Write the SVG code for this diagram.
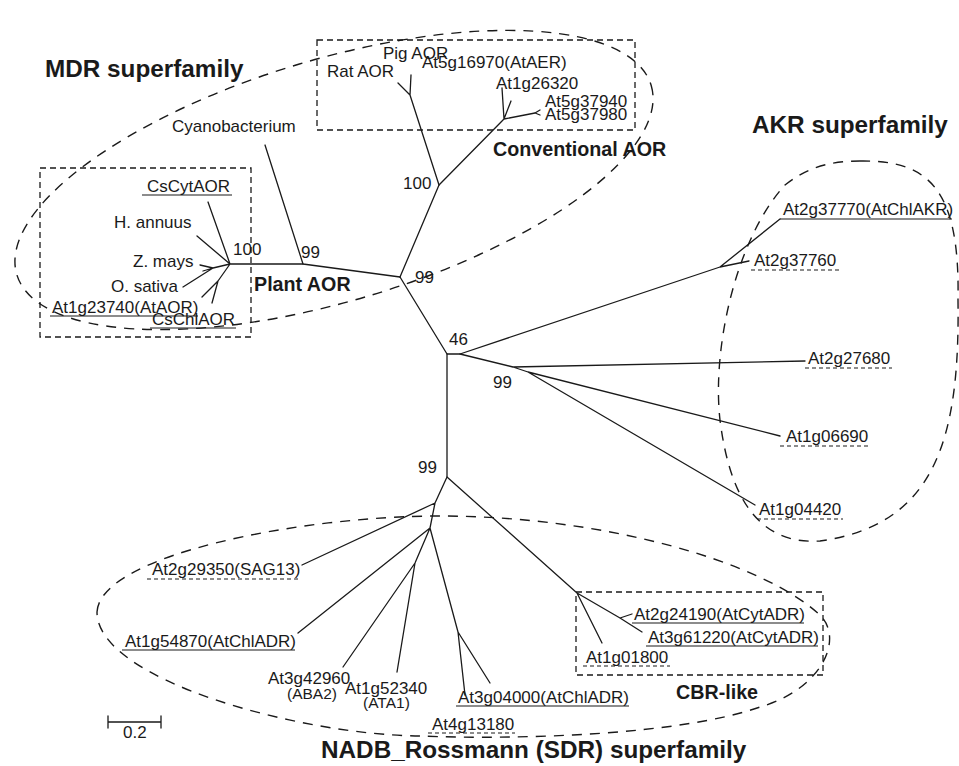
<svg xmlns="http://www.w3.org/2000/svg" width="959" height="766" viewBox="0 0 959 766">
<style>
text{font-family:"Liberation Sans",Arial,sans-serif;font-size:17px;fill:#1a1a1a}
.b{font-weight:bold;font-size:19.7px}
.t{font-weight:bold;font-size:24.3px}
.s{font-size:15.5px}
.br{fill:none;stroke:#1a1a1a;stroke-width:1.3;stroke-linecap:round;stroke-linejoin:round}
.ul{stroke:#1a1a1a;stroke-width:1.2}
.du{stroke:#1a1a1a;stroke-width:1.2;stroke-dasharray:4 3}
.ell{fill:none;stroke:#1a1a1a;stroke-width:1.4;stroke-dasharray:10 8}
.box{fill:none;stroke:#1a1a1a;stroke-width:1.3;stroke-dasharray:6 4}
</style>
<rect width="959" height="766" fill="#fff"/>

<g id="clusters">
  <g id="mdr-superfamily">
    <ellipse class="ell" cx="334" cy="180" rx="331" ry="121" transform="rotate(-16.6 334 180)"/>
    <text class="t" x="45" y="77">MDR superfamily</text>
  </g>
  <g id="conventional-aor">
    <rect class="box" x="317" y="40" width="318" height="90"/>
    <text class="b" x="493" y="156">Conventional AOR</text>
  </g>
  <g id="plant-aor">
    <rect class="box" x="40" y="168" width="211" height="169"/>
    <text class="b" x="254" y="291">Plant AOR</text>
  </g>
  <g id="akr-superfamily">
    <path class="ell" d="M860,161 C930,160 960,190 958,300 C960,440 935,525 820,541 C760,545 730,500 720,420 C712,350 735,240 785,185 C810,165 835,161 860,161 Z"/>
    <text class="t" x="752" y="133">AKR superfamily</text>
  </g>
  <g id="sdr-superfamily">
    <path class="ell" d="M97,612 C100,555 300,516 440,516 C600,516 760,560 820,615 C845,640 820,690 760,707 C680,735 520,740 420,736 C300,735 97,680 97,612 Z"/>
    <text class="t" x="321" y="758">NADB_Rossmann (SDR) superfamily</text>
  </g>
  <g id="cbr-like">
    <rect class="box" x="576" y="592" width="247" height="83"/>
    <text class="b" x="676" y="699">CBR-like</text>
  </g>
</g>

<g id="connectors">
  <!-- MDR -->
  <path class="br" d="M400,277 L439,185 L410,95 L398,83 M410,95 L411,75"/>
  <path class="br" d="M439,185 L504,119 L502,88 M504,119 L511,101 M504,119 L535,113 L540,110 M535,113 L540,115"/>
  <path class="br" d="M400,277 L303,264 L265,145"/>
  <path class="br" d="M303,264 L230,264 L208,202 M230,264 L197,236 M230,264 L213,268 L200,265 M213,268 L203,271 M213,268 L183,287 M230,264 L218,281 L202,297 M218,281 L212,303"/>
  <!-- AKR -->
  <path class="br" d="M400,277 L447,354 L460,354 L720,267 L780,219 M720,267 L749,261"/>
  <path class="br" d="M460,354 L513,367 L805,361 M513,367 L528,372 L780,436 M528,372 L755,505"/>
  <!-- SDR -->
  <path class="br" d="M447,354 L447,477 L577,593 L602,643 M577,593 L620,618 L642,632 M620,618 L632,614"/>
  <path class="br" d="M447,477 L435,503 L302,565 M435,503 L430,528 L298,633 M430,528 L415,563 L343,667 M415,563 L397,672 M430,528 L458,632 L465,695 M458,632 L490,683"/>
</g>

<g id="bootstrap">
  <text x="403" y="189">100</text>
  <text x="233" y="255">100</text>
  <text x="301" y="258">99</text>
  <text x="415" y="283">99</text>
  <text x="449" y="345">46</text>
  <text x="493" y="388">99</text>
  <text x="418" y="473">99</text>
</g>

<g id="n-pig-aor"><text x="383" y="59">Pig AOR</text></g>
<g id="n-at5g16970"><text x="422" y="68">At5g16970(AtAER)</text></g>
<g id="n-rat-aor"><text x="327" y="77">Rat AOR</text></g>
<g id="n-at1g26320"><text x="496" y="89">At1g26320</text></g>
<g id="n-at5g37940"><text x="545" y="107">At5g37940</text></g>
<g id="n-at5g37980"><text x="545" y="120">At5g37980</text></g>
<g id="n-cyanobacterium"><text x="172" y="132">Cyanobacterium</text></g>
<g id="n-cscytaor"><text x="147" y="192">CsCytAOR</text><line class="ul" x1="142" y1="195" x2="232" y2="195"/></g>
<g id="n-h-annuus"><text x="114" y="228">H. annuus</text></g>
<g id="n-z-mays"><text x="133" y="267">Z. mays</text></g>
<g id="n-o-sativa"><text x="111" y="292">O. sativa</text></g>
<g id="n-at1g23740"><text x="52" y="313">At1g23740(AtAOR)</text><line class="ul" x1="50" y1="316" x2="198" y2="316"/></g>
<g id="n-cschlaor"><text x="152" y="325">CsChlAOR</text><line class="ul" x1="150" y1="328" x2="236" y2="328"/></g>

<g id="n-at2g37770"><text x="783" y="215">At2g37770(AtChlAKR)</text><line class="ul" x1="780" y1="219" x2="952" y2="219"/></g>
<g id="n-at2g37760"><text x="754" y="266">At2g37760</text><line class="du" x1="751" y1="270" x2="840" y2="270"/></g>
<g id="n-at2g27680"><text x="808" y="364">At2g27680</text><line class="du" x1="805" y1="368" x2="892" y2="368"/></g>
<g id="n-at1g06690"><text x="786" y="442">At1g06690</text><line class="du" x1="780" y1="446" x2="868" y2="446"/></g>
<g id="n-at1g04420"><text x="759" y="515">At1g04420</text><line class="du" x1="757" y1="519" x2="843" y2="519"/></g>

<g id="n-at2g29350"><text x="152" y="575">At2g29350(SAG13)</text><line class="du" x1="147" y1="579" x2="298" y2="579"/></g>
<g id="n-at1g54870"><text x="125" y="647">At1g54870(AtChlADR)</text><line class="ul" x1="122" y1="650" x2="295" y2="650"/></g>
<g id="n-at3g42960"><text x="268" y="684">At3g42960</text><text class="s" x="287" y="699">(ABA2)</text></g>
<g id="n-at1g52340"><text x="345" y="694">At1g52340</text><text class="s" x="363" y="708">(ATA1)</text></g>
<g id="n-at3g04000"><text x="458" y="703">At3g04000(AtChlADR)</text><line class="ul" x1="456" y1="706" x2="629" y2="706"/></g>
<g id="n-at4g13180"><text x="432" y="730">At4g13180</text><line class="du" x1="428" y1="733" x2="515" y2="733"/></g>
<g id="n-at2g24190"><text x="634" y="620">At2g24190(AtCytADR)</text><line class="ul" x1="632" y1="623" x2="804" y2="623"/></g>
<g id="n-at3g61220"><text x="648" y="643">At3g61220(AtCytADR)</text><line class="ul" x1="646" y1="646" x2="818" y2="646"/></g>
<g id="n-at1g01800"><text x="586" y="663">At1g01800</text><line class="du" x1="583" y1="666" x2="670" y2="666"/></g>

<g id="scale-bar">
  <path class="br" d="M108,722 L161,722 M108,716 L108,728 M161,716 L161,728"/>
  <text x="123" y="738">0.2</text>
</g>
</svg>
